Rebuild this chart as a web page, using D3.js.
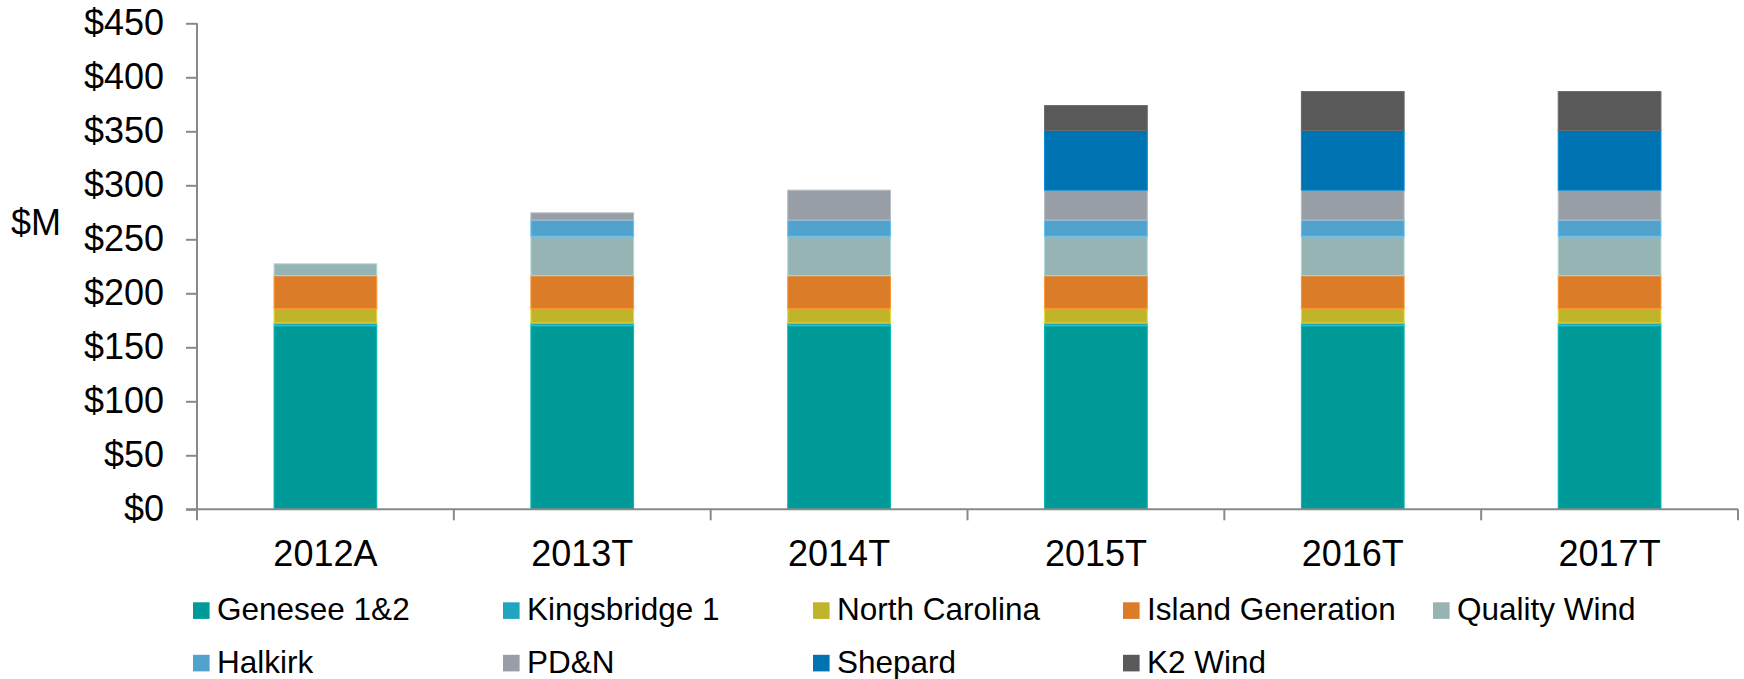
<!DOCTYPE html>
<html>
<head>
<meta charset="utf-8">
<script src="https://cdn.jsdelivr.net/npm/d3@7"></script>
<style>
  html, body { margin: 0; padding: 0; background: #fff; }
  svg { display: block; font-family: "Liberation Sans", Arial, sans-serif; }
</style>
</head>
<body>
<svg id="chart" width="1744" height="679"></svg>
<script>
const categories = ["2012A", "2013T", "2014T", "2015T", "2016T", "2017T"];
const seriesNames = ["Genesee 1&2", "Kingsbridge 1", "North Carolina", "Island Generation", "Quality Wind", "Halkirk", "PD&N", "Shepard", "K2 Wind"];
const genesee     = [170, 170, 170, 170, 170, 170];
const kingsbridge = [2.5, 2.5, 2.5, 2.5, 2.5, 2.5];
const northCarolina = [13.5, 13.5, 13.5, 13.5, 13.5, 13.5];
const islandGen   = [30.3, 30.3, 30.3, 30.3, 30.3, 30.3];
const qualityWind = [11, 36.5, 36.5, 36.5, 36.5, 36.5];
const halkirk     = [0, 15, 15, 15, 15, 15];
const pdn         = [0, 6.7, 27.7, 27.7, 27.7, 27.7];
const shepard     = [0, 0, 0, 55.3, 55.3, 55.3];
const k2Wind      = [0, 0, 0, 23, 36, 36];
const seriesColors = ["#009B98", "#20A5BE", "#C0B52A", "#DB7C28", "#95B4B3", "#51A2CC", "#979EA6", "#0074B3", "#595959"];
const yTicks = [0, 50, 100, 150, 200, 250, 300, 350, 400, 450];

const seriesValues = [genesee, kingsbridge, northCarolina, islandGen, qualityWind, halkirk, pdn, shepard, k2Wind];
const rows = categories.map((c, i) => {
  const r = { cat: c };
  seriesNames.forEach((s, j) => r[s] = seriesValues[j][i]);
  return r;
});

const svg = d3.select("#chart");
const x0 = 197, x1 = 1738, yBase = 509.3, yTop = 23.3;

const x = d3.scaleBand().domain(categories).range([x0, x1]).paddingInner(0.6).paddingOuter(0.3);
const y = d3.scaleLinear().domain([0, 450]).range([yBase, yTop]);
const color = d3.scaleOrdinal().domain(seriesNames).range(seriesColors);

const stack = d3.stack().keys(seriesNames)(rows);

// bars
svg.append("g").selectAll("g").data(stack).join("g")
  .attr("fill", d => color(d.key))
  .attr("stroke", d => d3.color(color(d.key)).brighter(0.5))
  .attr("stroke-width", 1)
  .selectAll("rect").data(d => d.filter(p => p[1] - p[0] > 0)).join("rect")
  .attr("x", d => x(d.data.cat))
  .attr("width", x.bandwidth())
  .attr("y", d => y(d[1]))
  .attr("height", d => y(d[0]) - y(d[1]));

// y axis
const yAxis = svg.append("g").attr("transform", `translate(${x0},0)`)
  .call(d3.axisLeft(y).tickValues(yTicks).tickSize(11).tickPadding(22).tickFormat(d => "$" + d));
yAxis.select(".domain").attr("stroke", "#898989").attr("stroke-width", 2).attr("d", `M0,${yTop}V${yBase}`);
yAxis.selectAll(".tick line").attr("stroke", "#898989").attr("stroke-width", 2);
yAxis.selectAll(".tick text").attr("font-size", 36).attr("fill", "#000");

// x axis labels
const xAxis = svg.append("g").attr("transform", `translate(0,${yBase})`)
  .call(d3.axisBottom(x).tickSize(0).tickPadding(31));
xAxis.select(".domain").remove();
xAxis.selectAll(".tick text").attr("font-size", 36).attr("fill", "#000");

// x axis line + boundary ticks
const bounds = d3.range(categories.length + 1).map(i => x0 + i * x.step());
svg.append("line").attr("x1", x0 - 11).attr("x2", x1).attr("y1", yBase).attr("y2", yBase)
  .attr("stroke", "#898989").attr("stroke-width", 2);
svg.append("g").selectAll("line").data(bounds).join("line")
  .attr("x1", d => d).attr("x2", d => d).attr("y1", yBase).attr("y2", yBase + 11)
  .attr("stroke", "#898989").attr("stroke-width", 2);

// y label
svg.append("text").attr("x", 11).attr("y", 235).attr("font-size", 36).attr("fill", "#000").text("$M");

// legend
const legend = svg.append("g").selectAll("g").data(seriesNames).join("g")
  .attr("transform", (d, i) => `translate(${193 + (i % 5) * 310},${602.3 + Math.floor(i / 5) * 52.5})`);
legend.append("rect").attr("width", 16.6).attr("height", 16.6).attr("fill", d => color(d));
legend.append("text").attr("x", 24).attr("y", 17.8).attr("font-size", 31.5).attr("fill", "#000").text(d => d);
</script>
</body>
</html>
